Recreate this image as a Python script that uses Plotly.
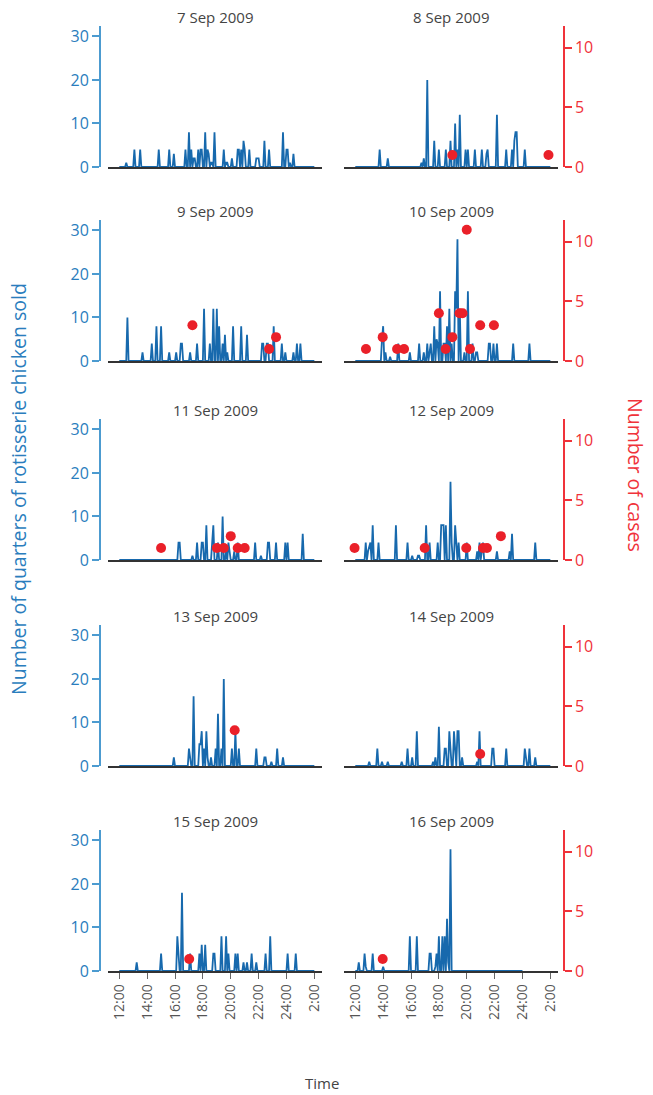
import plotly.graph_objects as go

# ---------------- data ----------------
day_titles = ["7 Sep 2009", "8 Sep 2009", "9 Sep 2009", "10 Sep 2009", "11 Sep 2009",
              "12 Sep 2009", "13 Sep 2009", "14 Sep 2009", "15 Sep 2009", "16 Sep 2009"]

# series span (hours, 26 = 2:00 next day)
series_start = [12, 12, 12, 12, 12, 12, 12, 12, 12, 12]
series_end = [26, 26, 26, 26, 26, 26, 26, 26, 26, 24]

# quarters of rotisserie chicken sold: (time, quantity) for non-zero 5-min bins
sep07_sales = [("12:30", 1), ("13:05", 4), ("13:30", 4), ("14:50", 4), ("15:35", 4), ("15:55", 3),
               ("16:45", 4), ("17:00", 8), ("17:10", 4), ("17:20", 2), ("17:25", 2), ("17:40", 4),
               ("17:50", 4), ("17:55", 4), ("18:10", 8), ("18:20", 4), ("18:25", 3), ("18:35", 1),
               ("18:40", 1), ("18:50", 8), ("19:30", 4), ("19:40", 1), ("19:45", 1), ("20:05", 2),
               ("20:30", 4), ("20:35", 4), ("20:45", 4), ("20:55", 6), ("21:00", 4), ("21:20", 4),
               ("21:50", 2), ("21:55", 2), ("22:00", 2), ("22:25", 6), ("22:45", 4), ("23:45", 8),
               ("24:00", 4), ("24:05", 4), ("24:15", 1), ("24:30", 3)]
sep08_sales = [("13:45", 4), ("14:20", 2), ("16:45", 1), ("16:55", 2), ("17:10", 20), ("17:40", 6),
               ("18:00", 4), ("18:30", 4), ("18:50", 6), ("19:10", 10), ("19:20", 4), ("19:30", 12),
               ("19:55", 4), ("20:05", 4), ("20:35", 4), ("21:05", 4), ("21:25", 3), ("21:30", 4),
               ("22:10", 12), ("22:50", 4), ("23:15", 4), ("23:25", 6), ("23:30", 8), ("23:35", 8),
               ("24:10", 4)]
sep09_sales = [("12:35", 10), ("13:40", 2), ("14:20", 4), ("14:40", 8), ("15:00", 8), ("15:35", 2),
               ("16:05", 2), ("16:25", 4), ("16:30", 4), ("17:05", 2), ("17:35", 4), ("18:05", 12),
               ("18:30", 4), ("18:45", 12), ("19:00", 12), ("19:10", 8), ("19:25", 4), ("19:35", 6),
               ("19:45", 2), ("20:10", 8), ("20:45", 8), ("21:10", 6), ("22:15", 4), ("22:20", 4),
               ("22:35", 4), ("22:40", 4), ("23:05", 8), ("23:40", 4), ("23:55", 2), ("24:30", 2),
               ("24:45", 4), ("25:00", 4)]
sep10_sales = [("13:55", 5), ("14:00", 8), ("14:10", 2), ("14:30", 1), ("15:05", 4), ("15:55", 2),
               ("16:35", 4), ("16:55", 2), ("17:10", 4), ("17:20", 2), ("17:25", 4), ("17:40", 8),
               ("17:50", 5), ("17:55", 4), ("18:05", 16), ("18:20", 4), ("18:25", 4), ("18:35", 8),
               ("18:45", 12), ("18:55", 4), ("19:10", 16), ("19:15", 12), ("19:20", 28), ("19:30", 12),
               ("19:50", 2), ("20:05", 16), ("20:25", 4), ("20:40", 2), ("20:45", 2), ("21:35", 4),
               ("21:40", 4), ("21:55", 4), ("22:10", 4), ("23:20", 4), ("24:30", 4)]
sep11_sales = [("16:15", 4), ("16:20", 4), ("17:15", 1), ("17:35", 4), ("17:55", 4), ("18:00", 4),
               ("18:15", 8), ("18:40", 4), ("18:45", 8), ("19:05", 4), ("19:25", 10), ("19:40", 2),
               ("19:50", 4), ("19:55", 2), ("20:15", 2), ("20:30", 4), ("21:45", 4), ("22:10", 1),
               ("22:40", 4), ("22:45", 4), ("23:15", 4), ("23:55", 4), ("24:05", 4), ("25:10", 6)]
sep12_sales = [("12:45", 4), ("12:55", 2), ("13:00", 3), ("13:05", 4), ("13:15", 8), ("13:40", 4),
               ("14:55", 8), ("15:45", 4), ("16:05", 1), ("16:30", 1), ("16:35", 1), ("17:05", 8),
               ("17:20", 4), ("17:55", 4), ("18:10", 8), ("18:15", 8), ("18:20", 8), ("18:30", 8),
               ("18:50", 18), ("18:55", 4), ("19:10", 8), ("19:15", 4), ("19:25", 4), ("20:00", 4),
               ("20:45", 2), ("20:55", 4), ("21:05", 2), ("21:10", 4), ("22:10", 2), ("23:05", 2),
               ("23:15", 6), ("24:55", 4)]
sep13_sales = [("15:55", 2), ("17:00", 4), ("17:05", 2), ("17:20", 16), ("17:45", 5), ("17:50", 5),
               ("17:55", 8), ("18:05", 4), ("18:15", 8), ("18:20", 2), ("18:35", 2), ("18:55", 4),
               ("19:05", 12), ("19:20", 4), ("19:30", 20), ("20:05", 4), ("20:20", 8), ("20:35", 4),
               ("21:50", 4), ("22:25", 2), ("22:30", 2), ("22:55", 1), ("23:20", 4), ("23:45", 2)]
sep14_sales = [("13:00", 1), ("13:35", 4), ("13:55", 1), ("14:20", 1), ("15:20", 1), ("15:45", 4),
               ("16:05", 2), ("16:25", 8), ("17:35", 1), ("17:45", 2), ("18:00", 9), ("18:25", 4),
               ("18:30", 4), ("18:45", 8), ("18:50", 4), ("19:05", 8), ("19:10", 4), ("19:20", 8),
               ("19:25", 8), ("19:40", 2), ("20:45", 1), ("20:55", 8), ("21:50", 4), ("21:55", 4),
               ("22:50", 4), ("24:10", 4), ("24:15", 2), ("24:30", 4), ("24:55", 2)]
sep15_sales = [("13:15", 2), ("15:00", 4), ("16:10", 8), ("16:15", 4), ("16:30", 18), ("17:05", 4),
               ("17:45", 4), ("17:55", 6), ("18:10", 6), ("18:45", 4), ("18:50", 4), ("19:20", 8),
               ("19:40", 8), ("19:50", 4), ("20:20", 4), ("20:30", 4), ("20:55", 2), ("21:10", 2),
               ("21:30", 4), ("21:50", 2), ("22:30", 4), ("22:50", 8), ("24:05", 4), ("24:40", 4)]
sep16_sales = [("12:15", 2), ("12:40", 4), ("12:45", 1), ("13:15", 4), ("14:00", 1), ("15:55", 8),
               ("16:25", 8), ("17:20", 4), ("17:25", 4), ("17:45", 1), ("17:50", 4), ("18:00", 8),
               ("18:15", 8), ("18:25", 8), ("18:35", 12), ("18:40", 2), ("18:50", 28)]

# number of cases: (time, count)
sep07_cases = []
sep08_cases = [("18:58", 1), ("25:52", 1)]
sep09_cases = [("17:15", 3), ("22:45", 1), ("23:15", 2)]
sep10_cases = [("12:46", 1), ("13:58", 2), ("15:00", 1), ("15:30", 1), ("18:00", 4), ("18:29", 1),
               ("18:58", 2), ("19:29", 4), ("19:42", 4), ("20:00", 11), ("20:14", 1), ("20:58", 3),
               ("21:57", 3)]
sep11_cases = [("15:00", 1), ("19:00", 1), ("19:30", 1), ("20:00", 2), ("20:30", 1), ("21:00", 1)]
sep12_cases = [("11:57", 1), ("16:59", 1), ("19:58", 1), ("21:10", 1), ("21:27", 1), ("22:27", 2)]
sep13_cases = [("20:17", 3)]
sep14_cases = [("20:58", 1)]
sep15_cases = [("17:01", 1)]
sep16_cases = [("13:58", 1)]

x_tick_hours = [12, 14, 16, 18, 20, 22, 24, 26]
x_tick_labels = ["12:00", "14:00", "16:00", "18:00", "20:00", "22:00", "24:00", "2:00"]
sales_ticks = [0, 10, 20, 30]
cases_ticks = [0, 5, 10]

all_sales = [sep07_sales, sep08_sales, sep09_sales, sep10_sales, sep11_sales,
             sep12_sales, sep13_sales, sep14_sales, sep15_sales, sep16_sales]
all_cases = [sep07_cases, sep08_cases, sep09_cases, sep10_cases, sep11_cases,
             sep12_cases, sep13_cases, sep14_cases, sep15_cases, sep16_cases]

# ---------------- helpers ----------------
def hours(s):
    h, m = s.split(":")
    return int(h) + int(m) / 60.0


def binned(sales, start, end):
    n = int(round((end - start) * 12))
    ys = [0] * (n + 1)
    for t, v in sales:
        k = int(round((hours(t) - start) * 12))
        if 0 <= k <= n:
            ys[k] = max(ys[k], v)
    xs = [start + k / 12.0 for k in range(n + 1)]
    return xs, ys


# ---------------- layout geometry ----------------
W, H = 653, 1095
BLUE_LINE = "#1769ad"
BLUE_AXIS = "#4c9bd0"
BLUE_TEXT = "#2a7dbd"
RED = "#ea2029"
RED_AXIS = "#f0323a"
GREY_TEXT = "#444444"
FONT = "Open Sans"

col_px = [(108, 322), (344, 558)]
row_base = [167, 361, 560, 766, 971]
panel_h = 141
sales_max = 32.4
cases_max = 11.82
x_range = [11.19, 26.55]

fig = go.Figure()
layout = dict(
    width=W, height=H, autosize=False,
    margin=dict(l=0, r=0, t=0, b=0, pad=0, autoexpand=False),
    paper_bgcolor="white", plot_bgcolor="white",
    showlegend=False,
    font=dict(family=FONT, color=GREY_TEXT),
)
annotations = []

for i in range(10):
    r, c = divmod(i, 2)
    xi = i + 1
    yb = 2 * i + 1
    yr = 2 * i + 2
    xname = "x" if xi == 1 else f"x{xi}"
    ybname = "y" if yb == 1 else f"y{yb}"
    yrname = f"y{yr}"

    x0, x1 = col_px[c]
    base = row_base[r]
    top = base - panel_h
    dom_x = [x0 / W, x1 / W]
    dom_y = [1 - base / H, 1 - top / H]
    bottom = (r == 4)

    xs, ys = binned(all_sales[i], series_start[i], series_end[i])
    fig.add_trace(go.Scatter(x=xs, y=ys, mode="lines", xaxis=xname, yaxis=ybname,
                             line=dict(color=BLUE_LINE, width=1.8), hoverinfo="skip"))
    cases = all_cases[i]
    fig.add_trace(go.Scatter(x=[hours(t) for t, n in cases], y=[n for t, n in cases],
                             mode="markers", xaxis=xname, yaxis=yrname,
                             marker=dict(color=RED, size=10, line=dict(width=0)),
                             cliponaxis=False, hoverinfo="skip"))

    layout["xaxis" if xi == 1 else f"xaxis{xi}"] = dict(
        domain=dom_x, range=x_range, anchor=ybname, automargin=False,
        showline=True, linecolor="#333333", linewidth=1.5, layer="below traces",
        showgrid=False, zeroline=False,
        tickmode="array", tickvals=x_tick_hours, ticktext=x_tick_labels,
        showticklabels=bottom, ticks="outside" if bottom else "",
        ticklen=6, tickwidth=1, tickcolor="#666666", tickangle=-90,
        tickfont=dict(family=FONT, size=14, color="#555555"),
    )
    layout["yaxis" if yb == 1 else f"yaxis{yb}"] = dict(
        domain=dom_y, range=[0, sales_max], anchor="free", position=100 / W,
        automargin=False,
        visible=(c == 0), showline=True, linecolor=BLUE_AXIS, linewidth=2,
        showgrid=False, zeroline=False, tickmode="array", tickvals=sales_ticks,
        ticks="outside", ticklen=7, tickwidth=1.5, tickcolor=BLUE_AXIS,
        tickfont=dict(family=FONT, size=16, color=BLUE_TEXT),
    )
    layout[f"yaxis{yr}"] = dict(
        range=[0, cases_max], overlaying=ybname, side="right", anchor="free",
        position=564 / W, visible=(c == 1), automargin=False, showline=True,
        linecolor=RED_AXIS, linewidth=1.5, showgrid=False, zeroline=False,
        tickmode="array", tickvals=cases_ticks, ticks="outside", ticklen=7,
        tickwidth=1.5, tickcolor=RED_AXIS,
        tickfont=dict(family=FONT, size=16, color=RED_AXIS),
    )

    annotations.append(dict(
        text=day_titles[i], xref="paper", yref="paper",
        x=(x0 + x1) / 2 / W, y=1 - (top - 9) / H, xanchor="center", yanchor="middle",
        showarrow=False, font=dict(family=FONT, size=15, color=GREY_TEXT),
    ))

annotations.append(dict(text="Time", xref="paper", yref="paper", x=322 / W, y=1 - 1083 / H,
                        xanchor="center", yanchor="middle", showarrow=False,
                        font=dict(family=FONT, size=15, color=GREY_TEXT)))
annotations.append(dict(text="Number of quarters of rotisserie chicken sold", xref="paper",
                        yref="paper", x=18 / W, y=1 - 489 / H, xanchor="center",
                        yanchor="middle", textangle=-90, showarrow=False,
                        font=dict(family=FONT, size=19.5, color=BLUE_TEXT)))
annotations.append(dict(text="Number of cases", xref="paper", yref="paper", x=636 / W,
                        y=1 - 475 / H, xanchor="center", yanchor="middle", textangle=90,
                        showarrow=False, font=dict(family=FONT, size=19.5, color=RED_AXIS)))
layout["annotations"] = annotations

fig.update_layout(**layout)
fig.write_html("out.html")
